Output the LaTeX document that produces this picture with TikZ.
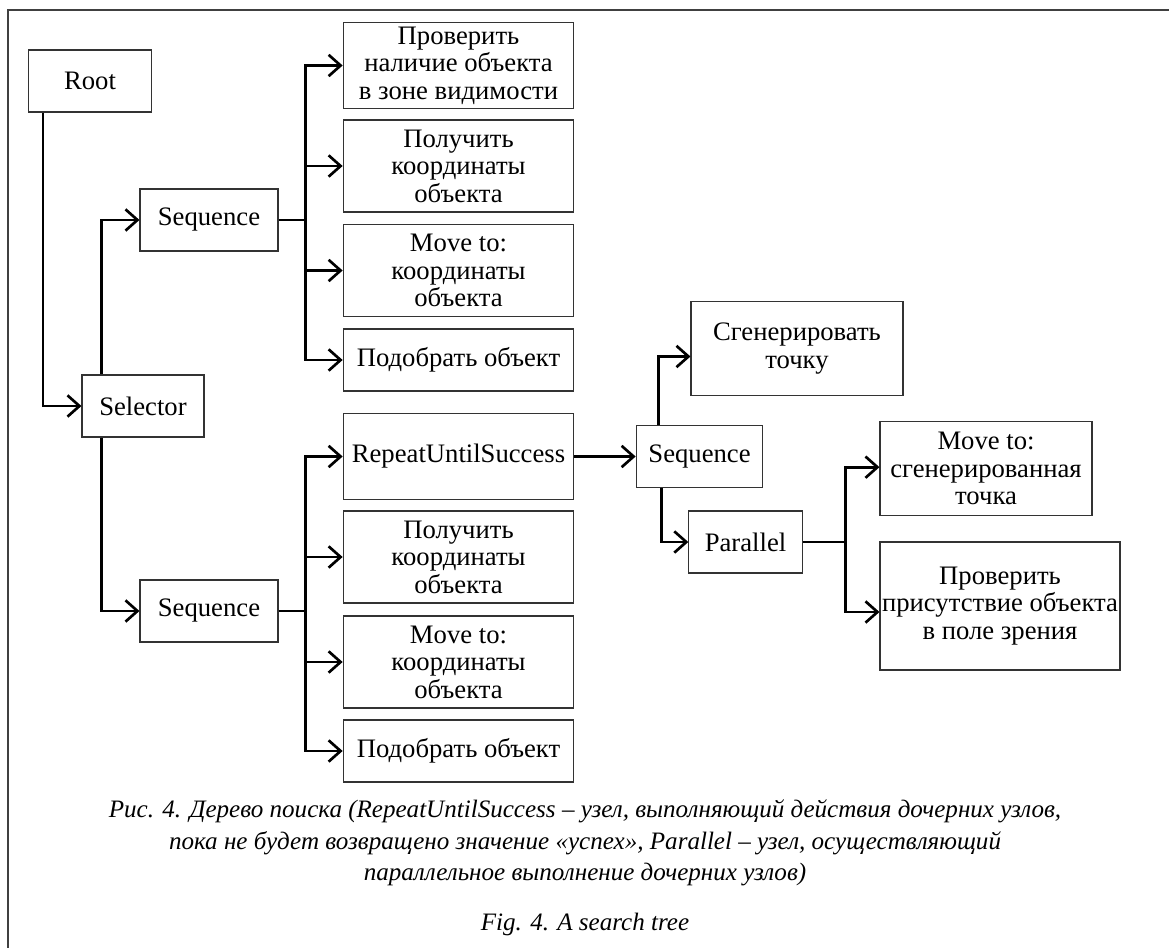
\documentclass[tikz,border=0pt]{standalone}
\usepackage{fontspec}
\setmainfont{Liberation Serif}
\usetikzlibrary{arrows.meta}
\tikzset{>={Straight Barb[length=9pt, width=16pt, line width=2pt]}}
\tikzset{every text node part/.style={align=center}}
\tikzset{
	treebox/.style={draw=black!80, line width=0.8pt, inner sep=0pt, font=\fontsize{20}{20.6}\selectfont},
	colbox/.style={treebox, minimum width=173pt},
	conn/.style={line width=2pt, ->, line join=miter},
	wire/.style={line width=2pt}
}

\begin{document}
\begin{tikzpicture}[x=0.75pt, y=-0.75pt]
	\useasboundingbox (0,0) rectangle (1169,948);
	
	% Frame
	\draw[line width=1.5pt, black!75] (8,948) -- (8,10) -- (1169,10);
	
	% Left part of the tree
	\node[treebox, minimum width=92pt, minimum height=46.5pt] (root) at (90,81) {Root};
	\node[treebox, minimum width=91.5pt, minimum height=46.5pt] (sel) at (143,406) {Selector};
	\node[treebox, minimum width=103.5pt, minimum height=46.5pt] (seqA) at (209,220) {Sequence};
	\node[treebox, minimum width=103.5pt, minimum height=46.5pt] (seqB) at (209,611) {Sequence};
	
	% Upper column
	\node[colbox, minimum height=64pt] (a1) at (458.5,65.5) {Проверить\\наличие объекта\\в зоне видимости};
	\node[colbox, minimum height=69pt] (a2) at (458.5,166) {Получить\\координаты\\объекта};
	\node[colbox, minimum height=69.5pt] (a3) at (458.5,270.5) {Move to:\\координаты\\объекта};
	\node[colbox, minimum height=46.5pt] (a4) at (458.5,360) {Подобрать объект};
	
	% Lower column
	\node[colbox, minimum height=64pt] (b1) at (458.5,456.5) {RepeatUntilSuccess};
	\node[colbox, minimum height=69pt] (b2) at (458.5,557) {Получить\\координаты\\объекта};
	\node[colbox, minimum height=69pt] (b3) at (458.5,662) {Move to:\\координаты\\объекта};
	\node[colbox, minimum height=46.5pt] (b4) at (458.5,751) {Подобрать объект};
	
	% Right part of the tree
	\node[treebox, minimum width=95pt, minimum height=46pt] (seqC) at (699.5,456.5) {Sequence};
	\node[treebox, minimum width=159pt, minimum height=70pt] (gen) at (797,348.5) {Сгенерировать\\точку};
	\node[treebox, minimum width=85pt, minimum height=46.5pt] (par) at (745.5,542) {Parallel};
	\node[treebox, minimum width=159pt, minimum height=70pt] (moveg) at (986,468.5) {Move to:\\сгенерированная\\точка};
	\node[treebox, minimum width=180pt, minimum height=96pt] (check) at (1000,606) {Проверить\\присутствие объекта\\в поле зрения};
	
	% Connectors
	\draw[conn] ([xshift=11.25pt]root.south west) |- (sel.west);
	\draw[conn] ([xshift=15pt]sel.north west) |- (seqA.west);
	\draw[conn] ([xshift=15pt]sel.south west) |- (seqB.west);
	
	\draw[wire] (seqA.east) -- ++(20pt,0) coordinate (ta);
	\foreach \n in {a1,a2,a3,a4}
	{
		\draw[conn] (ta) |- (\n.west);
	}
	\draw[wire] (seqB.east) -- ++(20pt,0) coordinate (tb);
	\foreach \n in {b1,b2,b3,b4}
	{
		\draw[conn] (tb) |- (\n.west);
	}
	
	\draw[conn] (b1.east) -- (seqC.west);
	\draw[conn] ([xshift=17pt]seqC.north west) |- ([yshift=-6pt]gen.west);
	\draw[conn] ([xshift=19.5pt]seqC.south west) |- (par.west);
	
	\draw[wire] (par.east) -- ++(32pt,0) coordinate (tc);
	\draw[conn] (tc) |- ([yshift=1pt]moveg.west);
	\draw[conn] (tc) |- ([yshift=-4.5pt]check.west);
	
	% Caption
	\node[font=\fontsize{18.8}{23.6}\selectfont\itshape] (cap) at (585,843) {Рис. 4. Дерево поиска (RepeatUntilSuccess – узел, выполняющий действия дочерних узлов,\\пока не будет возвращено значение «успех», Parallel – узел, осуществляющий\\параллельное выполнение дочерних узлов)};
	\node[font=\fontsize{18.8}{20}\selectfont\itshape] (fig) at (585,924) {Fig. 4. A search tree};
\end{tikzpicture}
\end{document}
